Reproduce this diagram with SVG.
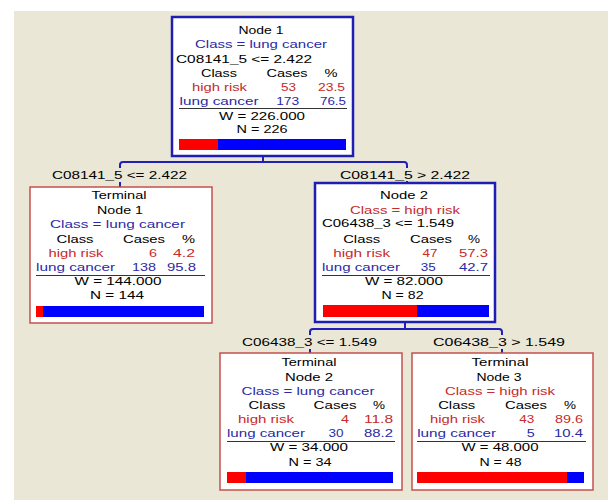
<svg xmlns="http://www.w3.org/2000/svg" width="608" height="500" viewBox="0 0 608 500">
<style>
text{font-family:"Liberation Sans",Arial,sans-serif;font-size:11px;fill:#000}
.c{text-anchor:middle}
.e{text-anchor:end}
.b{fill:#2A2AA6}
.r{fill:#C62A2A}
.inner{fill:#fff;stroke:#1E1EB4;stroke-width:2.5}
.term{fill:#fff;stroke:#C4504C;stroke-width:1.5}
.rule{stroke:#333;stroke-width:1}
.conn{fill:none;stroke:#2020B8;stroke-width:2}
.br{fill:#FF0000}
.bb{fill:#0000FF}
</style>
<rect x="0" y="0" width="608" height="500" fill="#fff"/>
<rect x="14" y="11" width="594" height="489" fill="#EAE7D7"/>

<g id="connectors">
<path class="conn" d="M263,156V162"/>
<path class="conn" d="M120,168V165Q120,162 123,162H404Q407,162 407,165V168"/>
<path class="conn" d="M120,182V187"/>
<path class="conn" d="M407,181V183"/>
<path class="conn" d="M405,322V329"/>
<path class="conn" d="M310,335V332Q310,329 313,329H499Q502,329 502,332V335"/>
<path class="conn" d="M310,349V353"/>
<path class="conn" d="M502,349V353"/>
<text class="c" x="119.5" y="179" textLength="135" lengthAdjust="spacingAndGlyphs">C08141_5 &lt;= 2.422</text>
<text class="c" x="405" y="179" textLength="130" lengthAdjust="spacingAndGlyphs">C08141_5 &gt; 2.422</text>
<text class="c" x="309.5" y="346" textLength="135" lengthAdjust="spacingAndGlyphs">C06438_3 &lt;= 1.549</text>
<text class="c" x="499" y="346" textLength="132" lengthAdjust="spacingAndGlyphs">C06438_3 &gt; 1.549</text>
</g>

<g id="node1">
<rect class="inner" x="172" y="17" width="181" height="139"/>
<text class="c" x="261" y="34" textLength="45" lengthAdjust="spacingAndGlyphs">Node 1</text>
<text class="c b" x="261" y="48" textLength="132" lengthAdjust="spacingAndGlyphs">Class = lung cancer</text>
<text x="176" y="63" textLength="136" lengthAdjust="spacingAndGlyphs">C08141_5 &lt;= 2.422</text>
<text class="c" x="219" y="77" textLength="36" lengthAdjust="spacingAndGlyphs">Class</text>
<text class="c" x="287" y="77" textLength="41" lengthAdjust="spacingAndGlyphs">Cases</text>
<text class="c" x="331" y="77" textLength="13" lengthAdjust="spacingAndGlyphs">%</text>
<text class="c r" x="219.5" y="91" textLength="55" lengthAdjust="spacingAndGlyphs">high risk</text>
<text class="c r" x="288.5" y="91" textLength="15" lengthAdjust="spacingAndGlyphs">53</text>
<text class="e r" x="345" y="91" textLength="27" lengthAdjust="spacingAndGlyphs">23.5</text>
<text class="c b" x="219" y="105" textLength="79" lengthAdjust="spacingAndGlyphs">lung cancer</text>
<text class="c b" x="287.7" y="105" textLength="23" lengthAdjust="spacingAndGlyphs">173</text>
<text class="e b" x="346" y="105" textLength="26" lengthAdjust="spacingAndGlyphs">76.5</text>
<line class="rule" x1="179" y1="108.5" x2="347" y2="108.5"/>
<text class="c" x="262" y="120" textLength="86" lengthAdjust="spacingAndGlyphs">W = 226.000</text>
<text class="c" x="262" y="133" textLength="51" lengthAdjust="spacingAndGlyphs">N = 226</text>
<rect class="br" x="179" y="139" width="39" height="11"/>
<rect class="bb" x="218" y="139" width="128" height="11"/>
</g>

<g id="node2">
<rect class="inner" x="315" y="183" width="180" height="139"/>
<text class="c" x="404" y="199" textLength="48" lengthAdjust="spacingAndGlyphs">Node 2</text>
<text class="c r" x="405" y="214" textLength="110" lengthAdjust="spacingAndGlyphs">Class = high risk</text>
<text x="322" y="227" textLength="132" lengthAdjust="spacingAndGlyphs">C06438_3 &lt;= 1.549</text>
<text class="c" x="361.7" y="243" textLength="37" lengthAdjust="spacingAndGlyphs">Class</text>
<text class="c" x="431" y="243" textLength="42" lengthAdjust="spacingAndGlyphs">Cases</text>
<text class="c" x="474" y="243" textLength="12" lengthAdjust="spacingAndGlyphs">%</text>
<text class="c r" x="361.7" y="257" textLength="57" lengthAdjust="spacingAndGlyphs">high risk</text>
<text class="c r" x="430" y="257" textLength="15" lengthAdjust="spacingAndGlyphs">47</text>
<text class="e r" x="488" y="257" textLength="29" lengthAdjust="spacingAndGlyphs">57.3</text>
<text class="c b" x="361" y="271" textLength="78" lengthAdjust="spacingAndGlyphs">lung cancer</text>
<text class="c b" x="428.3" y="271" textLength="15" lengthAdjust="spacingAndGlyphs">35</text>
<text class="e b" x="488" y="271" textLength="29" lengthAdjust="spacingAndGlyphs">42.7</text>
<line class="rule" x1="322" y1="275.5" x2="490" y2="275.5"/>
<text class="c" x="404" y="285" textLength="78" lengthAdjust="spacingAndGlyphs">W = 82.000</text>
<text class="c" x="402.5" y="299" textLength="42" lengthAdjust="spacingAndGlyphs">N = 82</text>
<rect class="br" x="323" y="305" width="94" height="12"/>
<rect class="bb" x="417" y="305" width="72" height="12"/>
</g>

<g id="terminal1">
<rect class="term" x="30" y="187" width="182" height="136"/>
<text class="c" x="119" y="199" textLength="55" lengthAdjust="spacingAndGlyphs">Terminal</text>
<text class="c" x="120" y="214" textLength="46" lengthAdjust="spacingAndGlyphs">Node 1</text>
<text class="c b" x="117.5" y="228" textLength="135" lengthAdjust="spacingAndGlyphs">Class = lung cancer</text>
<text class="c" x="75" y="243" textLength="37" lengthAdjust="spacingAndGlyphs">Class</text>
<text class="c" x="144" y="243" textLength="42" lengthAdjust="spacingAndGlyphs">Cases</text>
<text class="c" x="188.5" y="243" textLength="13" lengthAdjust="spacingAndGlyphs">%</text>
<text class="c r" x="76" y="257" textLength="55" lengthAdjust="spacingAndGlyphs">high risk</text>
<text class="c r" x="153" y="257" textLength="8" lengthAdjust="spacingAndGlyphs">6</text>
<text class="e r" x="195" y="257" textLength="22" lengthAdjust="spacingAndGlyphs">4.2</text>
<text class="c b" x="75.5" y="271" textLength="79" lengthAdjust="spacingAndGlyphs">lung cancer</text>
<text class="c b" x="144" y="271" textLength="24" lengthAdjust="spacingAndGlyphs">138</text>
<text class="e b" x="196" y="271" textLength="29" lengthAdjust="spacingAndGlyphs">95.8</text>
<line class="rule" x1="36" y1="275.5" x2="205" y2="275.5"/>
<text class="c" x="118" y="285" textLength="87" lengthAdjust="spacingAndGlyphs">W = 144.000</text>
<text class="c" x="117" y="299" textLength="54" lengthAdjust="spacingAndGlyphs">N = 144</text>
<rect class="br" x="36" y="306" width="7" height="11"/>
<rect class="bb" x="43" y="306" width="161" height="11"/>
</g>

<g id="terminal2">
<rect class="term" x="220" y="353" width="182" height="137"/>
<text class="c" x="309" y="366" textLength="55" lengthAdjust="spacingAndGlyphs">Terminal</text>
<text class="c" x="309" y="381" textLength="48" lengthAdjust="spacingAndGlyphs">Node 2</text>
<text class="c b" x="308" y="395" textLength="133" lengthAdjust="spacingAndGlyphs">Class = lung cancer</text>
<text class="c" x="267" y="409" textLength="37" lengthAdjust="spacingAndGlyphs">Class</text>
<text class="c" x="335" y="409" textLength="43" lengthAdjust="spacingAndGlyphs">Cases</text>
<text class="c" x="379" y="409" textLength="12" lengthAdjust="spacingAndGlyphs">%</text>
<text class="c r" x="266" y="423" textLength="56" lengthAdjust="spacingAndGlyphs">high risk</text>
<text class="c r" x="345" y="423" textLength="8" lengthAdjust="spacingAndGlyphs">4</text>
<text class="e r" x="393" y="423" textLength="29" lengthAdjust="spacingAndGlyphs">11.8</text>
<text class="c b" x="266" y="437" textLength="78" lengthAdjust="spacingAndGlyphs">lung cancer</text>
<text class="c b" x="336" y="437" textLength="15" lengthAdjust="spacingAndGlyphs">30</text>
<text class="e b" x="393" y="437" textLength="29" lengthAdjust="spacingAndGlyphs">88.2</text>
<line class="rule" x1="227" y1="441.5" x2="395" y2="441.5"/>
<text class="c" x="309" y="451" textLength="78" lengthAdjust="spacingAndGlyphs">W = 34.000</text>
<text class="c" x="310" y="466" textLength="43" lengthAdjust="spacingAndGlyphs">N = 34</text>
<rect class="br" x="227" y="472" width="19" height="11"/>
<rect class="bb" x="246" y="472" width="147" height="11"/>
</g>

<g id="terminal3">
<rect class="term" x="412" y="353" width="181" height="137"/>
<text class="c" x="500" y="366" textLength="57" lengthAdjust="spacingAndGlyphs">Terminal</text>
<text class="c" x="499" y="381" textLength="45" lengthAdjust="spacingAndGlyphs">Node 3</text>
<text class="c r" x="500" y="395" textLength="110" lengthAdjust="spacingAndGlyphs">Class = high risk</text>
<text class="c" x="456.7" y="409" textLength="37" lengthAdjust="spacingAndGlyphs">Class</text>
<text class="c" x="526" y="409" textLength="42" lengthAdjust="spacingAndGlyphs">Cases</text>
<text class="c" x="570" y="409" textLength="12" lengthAdjust="spacingAndGlyphs">%</text>
<text class="c r" x="457.5" y="423" textLength="55" lengthAdjust="spacingAndGlyphs">high risk</text>
<text class="c r" x="526.7" y="423" textLength="15" lengthAdjust="spacingAndGlyphs">43</text>
<text class="e r" x="583" y="423" textLength="28" lengthAdjust="spacingAndGlyphs">89.6</text>
<text class="c b" x="456.7" y="437" textLength="79" lengthAdjust="spacingAndGlyphs">lung cancer</text>
<text class="c b" x="530.7" y="437" textLength="8" lengthAdjust="spacingAndGlyphs">5</text>
<text class="e b" x="583" y="437" textLength="29" lengthAdjust="spacingAndGlyphs">10.4</text>
<line class="rule" x1="417" y1="441.5" x2="586" y2="441.5"/>
<text class="c" x="500" y="451" textLength="77" lengthAdjust="spacingAndGlyphs">W = 48.000</text>
<text class="c" x="500.5" y="466" textLength="42" lengthAdjust="spacingAndGlyphs">N = 48</text>
<rect class="br" x="417" y="472" width="150" height="11"/>
<rect class="bb" x="567" y="472" width="17" height="11"/>
</g>
</svg>
